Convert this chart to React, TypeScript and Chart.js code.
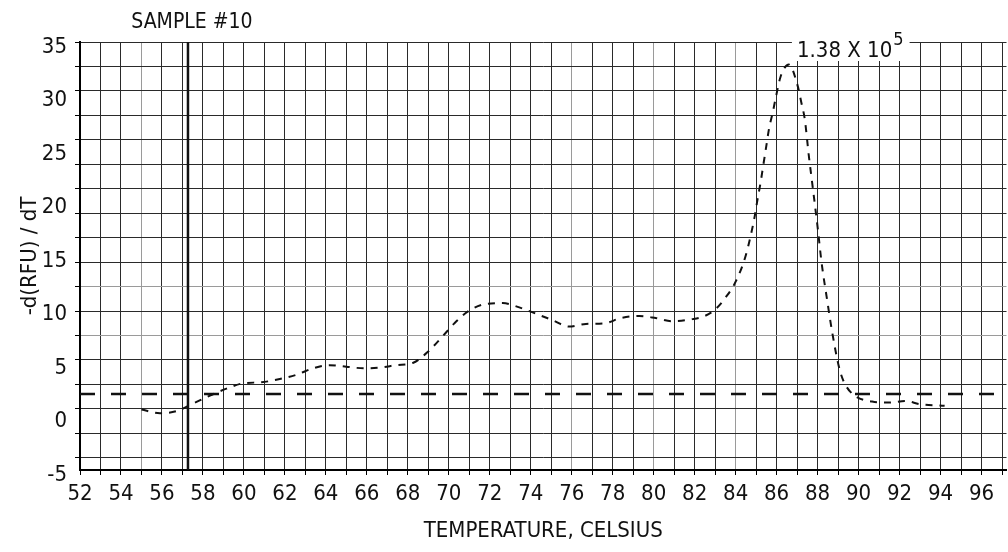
import React, { useEffect, useRef } from 'react';
import { Chart, registerables } from 'chart.js';

Chart.register(...registerables);

// ---- data ----
const temperatures = [
  55.0, 55.9, 56.7, 57.5, 58.4, 59.15, 59.96, 60.85, 61.75, 62.56, 63.37, 64.18, 65.0, 65.9, 66.78,
  67.43, 68.24, 69.06, 69.7, 70.27, 70.92, 71.74, 72.63, 73.44, 74.26, 75.07, 75.88, 76.69, 77.58,
  78.4, 79.29, 80.1, 80.9, 81.9, 82.5, 83.0, 83.5, 84.0, 84.5, 84.93, 85.06, 85.22, 85.35, 85.49,
  85.63, 85.82, 85.98, 86.2, 86.6, 87.0, 87.2, 87.38, 87.57, 87.79, 88.0, 88.2, 88.44, 88.71, 89.04,
  89.28, 89.77, 90.66, 91.47, 92.29, 93.0, 94.2,
];
const dRfuDt = [
  0.65, 0.3, 0.5, 1.2, 2.0, 2.6, 3.1, 3.2, 3.5, 3.9, 4.5, 4.8, 4.65, 4.5, 4.6,
  4.8, 5.0, 6.2, 7.5, 8.7, 9.8, 10.5, 10.6, 10.2, 9.6, 9.0, 8.4, 8.65, 8.7,
  9.2, 9.4, 9.2, 8.9, 9.1, 9.4, 10.0, 11.1, 12.6, 15.1, 18.7, 20.2, 21.9, 23.5, 25.2,
  26.9, 28.5, 30.0, 31.8, 32.9, 31.1, 29.4, 27.7, 24.4, 21.0, 17.7, 14.3, 11.2, 7.9, 4.65,
  3.25, 2.0, 1.4, 1.3, 1.45, 1.15, 1.0,
];
const thresholdValue = 2.1;
const sampleTemperature = 57.27;
const sampleLabel = 'SAMPLE #10';
const peakLabel = '1.38 X 10';
const peakExponent = '5';
const xTitle = 'TEMPERATURE, CELSIUS';
const yTitle = '-d(RFU) / dT';
const xTickLabels = ['52', '54', '56', '58', '60', '62', '64', '66', '68', '70', '72', '74', '76', '78', '80', '82', '84', '86', '88', '90', '92', '94', '96'];
const yTickLabels = ['-5', '0', '5', '10', '15', '20', '25', '30', '35'];
const lightVerticalGrid = [55, 76, 80, 84];
const lightHorizontalGrid = [5, 7];

const X_MIN = 52;
const X_MAX = 97.22;
const Y_MIN = -5;
const Y_MAX = 35;

const FONT = "'Liberation Sans Narrow', 'Arial Narrow', 'DejaVu Sans Condensed', 'Liberation Sans', sans-serif";
const INK = '#111';

const textPlugin = {
  id: 'figureText',
  afterDraw(chart: any) {
    const { ctx, chartArea } = chart;
    const x = chart.scales.x;
    ctx.save();
    // sample marker label
    const sx = x.getPixelForValue(sampleTemperature);
    ctx.font = `21px ${FONT}`;
    ctx.fillStyle = INK;
    ctx.textAlign = 'center';
    ctx.textBaseline = 'middle';
    ctx.fillText(sampleLabel, sx + 4, 23);

    // peak annotation
    let iMax = 0;
    dRfuDt.forEach((v, i) => { if (v > dRfuDt[iMax]) iMax = i; });
    const px = x.getPixelForValue(temperatures[iMax]) + 8;
    const top = chartArea.top;
    ctx.font = `22px ${FONT}`;
    const w1 = ctx.measureText(peakLabel).width;
    ctx.font = `18px ${FONT}`;
    const w2 = ctx.measureText(peakExponent).width;
    ctx.fillStyle = '#fff';
    ctx.fillRect(px - 5, top - 16, w1 + w2 + 12, 35);
    ctx.fillStyle = INK;
    ctx.textAlign = 'left';
    ctx.textBaseline = 'alphabetic';
    ctx.font = `22px ${FONT}`;
    ctx.fillText(peakLabel, px, top + 15);
    ctx.font = `18px ${FONT}`;
    ctx.fillText(peakExponent, px + w1 + 1, top + 3);
    ctx.restore();
  },
};

export default function App() {
  const ref = useRef<HTMLCanvasElement | null>(null);

  useEffect(() => {
    if (!ref.current) return;
    const curve = temperatures.map((t, i) => ({ x: t, y: dRfuDt[i] }));
    const chart = new Chart(ref.current, {
      type: 'line',
      data: {
        datasets: [
          {
            label: 'melt',
            data: curve,
            borderColor: INK,
            borderWidth: 2,
            borderDash: [7, 7],
            pointRadius: 0,
            cubicInterpolationMode: 'monotone',
            fill: false,
            yAxisID: 'y',
          },
          {
            label: 'threshold',
            data: [{ x: X_MIN, y: thresholdValue }, { x: X_MAX, y: thresholdValue }],
            borderColor: INK,
            borderWidth: 2.5,
            borderDash: [15, 16],
            pointRadius: 0,
            tension: 0,
            yAxisID: 'y',
          },
          {
            label: 'sample',
            data: [{ x: sampleTemperature, y: Y_MIN }, { x: sampleTemperature, y: Y_MAX }],
            borderColor: INK,
            borderWidth: 2.5,
            pointRadius: 0,
            tension: 0,
            yAxisID: 'y',
          },
        ],
      },
      options: {
        animation: false,
        responsive: false,
        maintainAspectRatio: false,
        layout: { padding: { top: 42, right: 0, bottom: 0, left: 0 } },
        plugins: { legend: { display: false }, tooltip: { enabled: false } },
        scales: {
          x: {
            type: 'linear',
            min: X_MIN,
            max: X_MAX,
            afterFit(scale: any) { scale.height = 82; },
            border: { display: true, color: '#000', width: 2 },
            grid: {
              color: (c: any) => (c.tick && lightVerticalGrid.includes(c.tick.value) ? '#9a9a9a' : '#2a2a2a'),
              lineWidth: 1,
              tickLength: 5,
              tickColor: '#000',
            },
            ticks: {
              stepSize: 1,
              autoSkip: false,
              maxRotation: 0,
              minRotation: 0,
              includeBounds: false,
              padding: 6,
              color: INK,
              font: { family: FONT, size: 22 },
              callback: (v: any) => (xTickLabels.includes(String(v)) ? String(v) : ''),
            },
            title: {
              display: true,
              text: xTitle,
              color: INK,
              font: { family: FONT, size: 22 },
              padding: { top: 0, bottom: 8 },
            },
          },
          y: {
            type: 'linear',
            position: 'left',
            weight: 1,
            min: Y_MIN,
            max: Y_MAX,
            afterFit(scale: any) { scale.width = 75; },
            border: { display: false },
            grid: { display: false, drawTicks: false },
            ticks: {
              stepSize: 5,
              autoSkip: false,
              padding: 8,
              labelOffset: 5,
              color: INK,
              font: { family: FONT, size: 22 },
              callback: (v: any) => (yTickLabels.includes(String(v)) ? String(v) : ''),
            },
            title: {
              display: true,
              text: yTitle,
              color: INK,
              font: { family: FONT, size: 22 },
              padding: { top: 17, bottom: 0 },
            },
          },
          y2: {
            type: 'linear',
            position: 'left',
            weight: 0,
            min: -0.5,
            max: 17,
            afterFit(scale: any) { scale.width = 5; },
            border: { display: true, color: '#000', width: 2 },
            grid: {
              color: (c: any) => (c.tick && lightHorizontalGrid.includes(c.tick.value) ? '#9a9a9a' : '#2a2a2a'),
              lineWidth: 1,
              tickLength: 5,
              tickColor: '#000',
            },
            ticks: { display: false, stepSize: 1, includeBounds: false },
          },
        },
      },
      plugins: [textPlugin],
    });
    return () => chart.destroy();
  }, []);

  return (
    <div style={{ position: 'absolute', left: 0, top: 0, width: 1008, height: 552, background: '#fff' }}>
      <canvas ref={ref} width={1008} height={552} style={{ display: 'block' }} />
    </div>
  );
}
